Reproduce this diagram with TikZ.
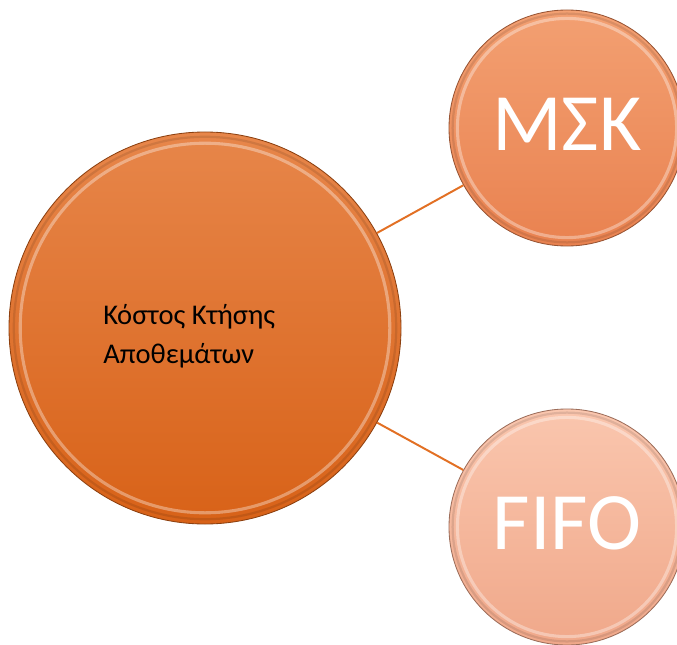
\documentclass[tikz,border=0pt]{standalone}
\usepackage{fontspec}
\setmainfont{Carlito}
\usetikzlibrary{positioning,calc}
\definecolor{costtop}{RGB}{231,134,74}
\definecolor{costmid}{RGB}{234,118,40}
\definecolor{costbot}{RGB}{216,98,24}
\definecolor{msktop}{RGB}{243,160,114}
\definecolor{mskbot}{RGB}{233,130,80}
\definecolor{fifotop}{RGB}{250,198,174}
\definecolor{fifobot}{RGB}{240,168,138}
\definecolor{linkc}{RGB}{226,112,36}

\begin{document}
\begin{tikzpicture}
\tikzset{
  ball/.style={circle, inner sep=0pt, draw=black!35!#1, line width=0.6pt},
  rim/.style={draw=white, opacity=0.35, line width=2.2pt},
  shade/.style={draw=black, opacity=0.10, line width=1.6pt},
  link/.style={draw=linkc, line width=1.4pt},
  bigtext/.style={text=white, text depth=0.2cm, font=\fontsize{58}{60}\selectfont}
}
\useasboundingbox (0,0) rectangle (16.925,16.1);
\clip (0,0) rectangle (16.925,16.1);
% centre circle
\node[ball=costbot, minimum size=9.8cm, top color=costtop, middle color=costmid, bottom color=costbot] (cost) at (5.125,7.9) {};
\node[anchor=west, inner sep=0pt, align=left, font=\fontsize{20.3}{27.7}\selectfont] (costlabel)
  at ($(cost.center)+(-2.55,-0.2)$) {Κόστος Κτήσης\\Αποθεμάτων};
% method circles
\node[ball=mskbot, minimum size=5.9cm, top color=msktop, bottom color=mskbot, bigtext] (msk) at (14.175,12.9) {ΜΣΚ};
\node[ball=fifobot, minimum size=5.9cm, top color=fifotop, bottom color=fifobot, bigtext] (fifo) at (14.175,2.925) {FIFO};
% bevel rings
\draw[shade] (cost.center) circle (4.78cm);
\draw[rim] (cost.center) circle (4.62cm);
\draw[shade] (msk.center) circle (2.86cm);
\draw[rim] (msk.center) circle (2.74cm);
\draw[shade] (fifo.center) circle (2.86cm);
\draw[rim] (fifo.center) circle (2.74cm);
\draw[link] (cost) -- (msk);
\draw[link] (cost) -- (fifo);
\end{tikzpicture}
\end{document}
